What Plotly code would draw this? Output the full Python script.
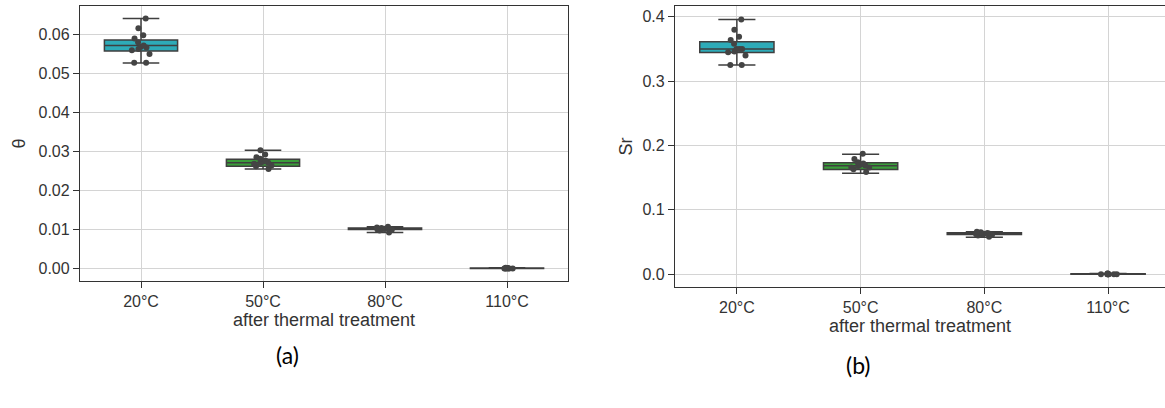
import plotly.graph_objects as go

categories = ["20°C", "50°C", "80°C", "110°C"]

# Panel (a): theta
theta_points = [
    [0.0640, 0.0615, 0.0597, 0.0589, 0.0579, 0.0571, 0.0566, 0.0567, 0.0559, 0.0562, 0.0549, 0.0527, 0.0527],
    [0.0303, 0.0292, 0.0285, 0.0281, 0.0273, 0.0271, 0.0271, 0.0268, 0.0264, 0.0262, 0.0255, 0.0276],
    [0.0107, 0.0105, 0.0104, 0.0103, 0.0102, 0.0102, 0.0101, 0.0100, 0.0099, 0.0097, 0.0092],
    [0.0002, 0.0001, 0.0001, 0.0000, 0.0000, 0.0000, 0.0000, 0.0000, 0.0001, 0.0000],
]
theta_q1 = [0.0557, 0.0262, 0.0100, 0.0000]
theta_med = [0.0571, 0.0271, 0.0102, 0.0000]
theta_q3 = [0.0585, 0.0280, 0.0104, 0.0001]
theta_lo = [0.0526, 0.0255, 0.0092, 0.0000]
theta_hi = [0.0640, 0.0303, 0.0107, 0.0002]

# Panel (b): Sr
sr_points = [
    [0.396, 0.380, 0.369, 0.364, 0.358, 0.350, 0.350, 0.350, 0.346, 0.345, 0.340, 0.325, 0.325],
    [0.187, 0.179, 0.174, 0.172, 0.170, 0.169, 0.166, 0.166, 0.163, 0.159, 0.168],
    [0.066, 0.065, 0.064, 0.063, 0.063, 0.062, 0.062, 0.061, 0.060, 0.058],
    [0.001, 0.000, 0.000, 0.000, 0.001, 0.000, 0.000, 0.000, 0.000, 0.000],
]
sr_q1 = [0.3447, 0.1628, 0.0618, 0.0000]
sr_med = [0.3500, 0.1685, 0.0630, 0.0000]
sr_q3 = [0.3612, 0.1732, 0.0645, 0.0005]
sr_lo = [0.3251, 0.1570, 0.0575, 0.0000]
sr_hi = [0.3958, 0.1865, 0.0660, 0.0010]

box_colors = ["#2eabb8", "#3a9e3a", "#4a4a4a", "#4a4a4a"]
line_col = "#3f3f3f"
pt_col = "#444444"

fig = go.Figure()

def add_panel(xa, ya, pts, q1, med, q3, lo, hi):
    for i, cat in enumerate(categories):
        fig.add_trace(go.Box(
            x=[i], q1=[q1[i]], median=[med[i]], q3=[q3[i]],
            lowerfence=[lo[i]], upperfence=[hi[i]],
            width=0.6, whiskerwidth=0.5, fillcolor=box_colors[i],
            line=dict(color=line_col, width=1.5), boxpoints=False,
            showlegend=False, xaxis=xa, yaxis=ya, name=cat))
        fig.add_trace(go.Box(
            x=[i] * len(pts[i]), y=pts[i], boxpoints="all", jitter=0.3, pointpos=0,
            width=0.6, fillcolor="rgba(0,0,0,0)",
            line=dict(color="rgba(0,0,0,0)", width=0),
            marker=dict(color=pt_col, size=6),
            showlegend=False, xaxis=xa, yaxis=ya, name=cat))

add_panel("x", "y", theta_points, theta_q1, theta_med, theta_q3, theta_lo, theta_hi)
add_panel("x2", "y2", sr_points, sr_q1, sr_med, sr_q3, sr_lo, sr_hi)

W, H = 1165, 408
tick_font = dict(family="Liberation Sans, Arial, sans-serif", size=16, color="#333333")
title_font = dict(family="Liberation Sans, Arial, sans-serif", size=18, color="#333333")
axis_common = dict(showgrid=True, gridcolor="#d4d4d4", gridwidth=1, zeroline=False,
                   showline=True, linecolor="#333333", linewidth=1.3,
                   ticks="outside", ticklen=6, tickwidth=1.2, tickcolor="#333333",
                   tickfont=tick_font)

fig.update_layout(
    width=W, height=H, margin=dict(l=0, r=0, t=0, b=0),
    paper_bgcolor="white", plot_bgcolor="white", boxmode="overlay",
    font=tick_font,
    xaxis=dict(domain=[80 / W, 568 / W], range=[-0.5, 3.5], tickvals=[0, 1, 2, 3],
               ticktext=categories, mirror=True, anchor="y",
               title=dict(text="after thermal treatment", font=title_font, standoff=0), **axis_common),
    yaxis=dict(domain=[1 - 281 / H, 1 - 6 / H], range=[-0.0032, 0.0672],
               tickvals=[0, 0.01, 0.02, 0.03, 0.04, 0.05, 0.06], tickformat=".2f",
               mirror=True, anchor="x",
               title=dict(text="θ", font=title_font, standoff=8), **axis_common),
    xaxis2=dict(domain=[675 / W, 1.0], range=[-0.5, 3.46], tickvals=[0, 1, 2, 3],
                ticktext=categories, mirror=True, anchor="y2",
                title=dict(text="after thermal treatment", font=title_font, standoff=0), **axis_common),
    yaxis2=dict(domain=[1 - 287 / H, 1 - 6 / H], range=[-0.0199, 0.4168],
                tickvals=[0, 0.1, 0.2, 0.3, 0.4], tickformat=".1f",
                mirror=False, anchor="x2",
                title=dict(text="Sr", font=title_font, standoff=5), **axis_common),
)

label_font = dict(family="Lato, Open Sans, sans-serif", size=23, color="#000000")
fig.add_annotation(text="(a)", x=287 / W, y=1 - 355 / H, xref="paper", yref="paper",
                   showarrow=False, font=label_font, xanchor="center", yanchor="middle")
fig.add_annotation(text="(b)", x=858 / W, y=1 - 365 / H, xref="paper", yref="paper",
                   showarrow=False, font=label_font, xanchor="center", yanchor="middle")

fig.write_html("out.html", config={"displayModeBar": False},
               post_script="document.body.style.margin='0';document.body.style.overflow='hidden';")
